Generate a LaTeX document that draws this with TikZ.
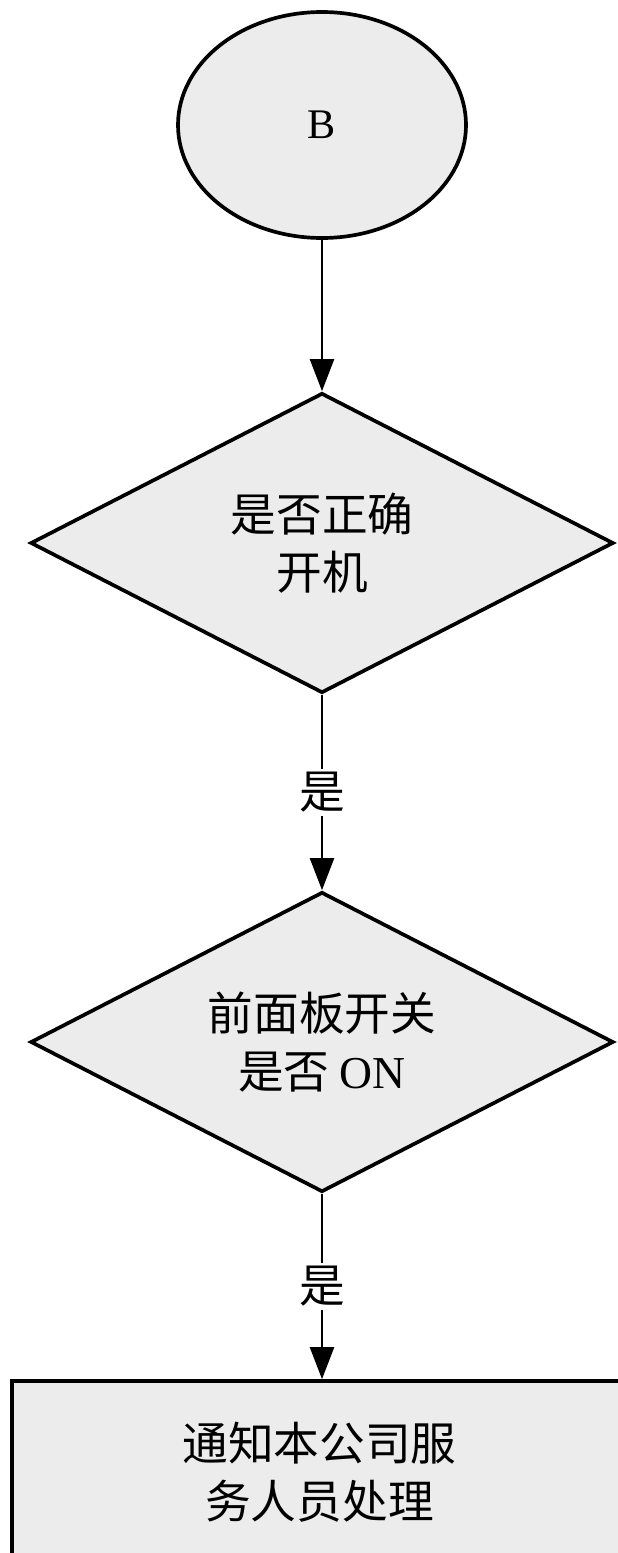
\documentclass[tikz,border=0pt]{standalone}
\usepackage{fontspec}
\setmainfont{Liberation Serif}
\newfontfamily\cjk{Noto Sans CJK SC}
\usetikzlibrary{arrows.meta,positioning,shapes.geometric}
\definecolor{flowgray}{RGB}{236,236,236}

\begin{document}
\begin{tikzpicture}[
    startnode/.style={draw,ellipse,fill=flowgray,line width=2.1pt,minimum width=5.76cm,minimum height=4.52cm,inner sep=0pt,font=\fontsize{24}{28}\selectfont},
    decision/.style={draw,diamond,aspect=2,fill=flowgray,line width=2.1pt,minimum width=11.66cm,minimum height=6cm,inner sep=0pt,align=center,font=\cjk\fontsize{26}{33}\selectfont},
    process/.style={draw,rectangle,fill=flowgray,line width=2.1pt,minimum width=12.3cm,minimum height=3.64cm,align=center,font=\cjk\fontsize{26}{33}\selectfont},
    yeslabel/.style={fill=white,inner sep=2pt,font=\cjk\fontsize{26}{33}\selectfont},
    flow/.style={line width=1.3pt,-{Triangle[length=0.64cm,width=0.48cm]}}]
      \useasboundingbox (0,0) rectangle (12.34,-31.06);
      \node[startnode] (b) at (6.44,-2.5) {B};
      \node[decision] (q1) at (6.44,-10.86) {是否正确\\开机};
      \node[decision] (q2) at (6.44,-20.84) {前面板开关\\是否 {\rmfamily ON}};
      \node[process] (notify) at (6.39,-29.44) {通知本公司服\\务人员处理};
      \draw[flow] (b)--(q1);
      \draw[flow] (q1)--(q2) node[yeslabel,midway]{是};
      \draw[flow] (q2.south)--(q2.south |- notify.north) node[yeslabel,midway]{是};
    \end{tikzpicture}
\end{document}
